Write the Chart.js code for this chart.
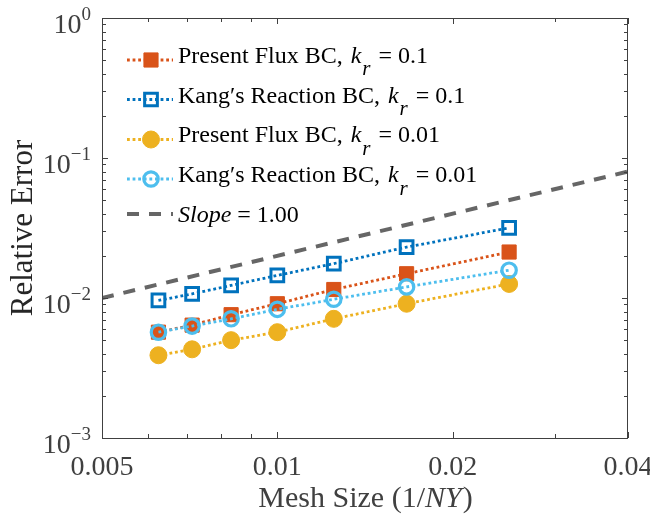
<!DOCTYPE html>
<html>
<head>
<meta charset="utf-8">
<script src="https://cdn.jsdelivr.net/npm/chart.js"></script>
<style>
  html, body { margin: 0; padding: 0; background: #fff; }
  #wrap { width: 650px; height: 518px; }
</style>
</head>
<body>
<div id="wrap"><canvas id="graficoError" width="650" height="518"></canvas></div>
<script>
// valores (1/NY en el eje x)
const meshSize = [0.00625, 0.00714, 0.00833, 0.01, 0.0125, 0.01667, 0.025];
const presentFlux01 = [0.0057, 0.0064, 0.0076, 0.0091, 0.0115, 0.0149, 0.0213];
const kangReaction01 = [0.0096, 0.0107, 0.0123, 0.0145, 0.0176, 0.0231, 0.0317];
const presentFlux001 = [0.0039, 0.0043, 0.0050, 0.0057, 0.0071, 0.0091, 0.0126];
const kangReaction001 = [0.0057, 0.0063, 0.0071, 0.0083, 0.0098, 0.0120, 0.0158];
const slopeX = [0.005, 0.04];
const slopeY = [0.01, 0.08];

const xTicks = [0.005, 0.01, 0.02, 0.04];
const xTickLabels = ['0.005', '0.01', '0.02', '0.04'];
const xMinorTicks = [0.006, 0.007, 0.008, 0.009, 0.03];
const yTicks = [1, 0.1, 0.01, 0.001];
const yTickExponents = ['0', '\u22121', '\u22122', '\u22123'];

const legendNames = ['Present Flux BC', 'Kang\u2032s Reaction BC', 'Present Flux BC', 'Kang\u2032s Reaction BC'];
const legendKr = ['0.1', '0.1', '0.01', '0.01'];
const slopeLabel = '1.00';

const rojo = '#D95319', azul = '#0072BD', amarillo = '#EDB120', celeste = '#4DBEEE', gris = '#666666';
const fuente = "'Liberation Serif', 'Times New Roman', serif";
const colorEje = '#404040';

function puntos(ys) {
    return meshSize.map((x, i) => ({ x: x, y: ys[i] }));
}

const punteado = { borderWidth: 2.8, borderDash: [2.8, 2.8], tension: 0, showLine: true };

const datasets = [
    Object.assign({
        label: 'Present Flux BC, kr = 0.1', data: puntos(presentFlux01),
        borderColor: rojo, pointStyle: 'rect', pointRadius: 10,
        pointBackgroundColor: rojo, pointBorderColor: rojo, pointBorderWidth: 1, order: 4
    }, punteado),
    Object.assign({
        label: 'Kang\u2032s Reaction BC, kr = 0.1', data: puntos(kangReaction01),
        borderColor: azul, pointStyle: 'rect', pointRadius: 9,
        pointBackgroundColor: 'rgba(0,0,0,0)', pointBorderColor: azul, pointBorderWidth: 3, order: 3
    }, punteado),
    Object.assign({
        label: 'Present Flux BC, kr = 0.01', data: puntos(presentFlux001),
        borderColor: amarillo, pointStyle: 'circle', pointRadius: 8.5,
        pointBackgroundColor: amarillo, pointBorderColor: amarillo, pointBorderWidth: 1, order: 2
    }, punteado),
    Object.assign({
        label: 'Kang\u2032s Reaction BC, kr = 0.01', data: puntos(kangReaction001),
        borderColor: celeste, pointStyle: 'circle', pointRadius: 7.2,
        pointBackgroundColor: 'rgba(0,0,0,0)', pointBorderColor: celeste, pointBorderWidth: 3.2, order: 1
    }, punteado),
    {
        label: 'Slope = 1.00', data: slopeX.map((x, i) => ({ x: x, y: slopeY[i] })),
        borderColor: gris, borderWidth: 4, borderDash: [12, 10], pointRadius: 0,
        showLine: true, tension: 0, order: 5
    }
];

// dibuja un marcador de leyenda igual al de la serie
function marcador(ctx, ds, x, y) {
    ctx.save();
    ctx.lineWidth = ds.pointBorderWidth;
    ctx.strokeStyle = ds.pointBorderColor;
    ctx.fillStyle = ds.pointBackgroundColor;
    ctx.beginPath();
    if (ds.pointStyle === 'rect') {
        const s = Math.SQRT1_2 * ds.pointRadius;
        ctx.rect(x - s, y - s, 2 * s, 2 * s);
    } else {
        ctx.arc(x, y, ds.pointRadius, 0, Math.PI * 2);
    }
    ctx.fill();
    ctx.stroke();
    ctx.restore();
}

const ejesMatlab = {
    id: 'ejesMatlab',
    afterDraw(chart) {
        const ctx = chart.ctx;
        const a = chart.chartArea;
        const sx = chart.scales.x, sy = chart.scales.y;
        ctx.save();

        // marco
        ctx.strokeStyle = colorEje;
        ctx.lineWidth = 1;
        ctx.strokeRect(a.left + 0.5, a.top + 0.5, a.right - a.left - 1, a.bottom - a.top);

        // marcas eje y
        ctx.beginPath();
        for (let n = -3; n <= 0; n++) {
            for (let k = 1; k <= 9; k++) {
                const v = k * Math.pow(10, n);
                if (v > 1.0001) break;
                const py = Math.round(sy.getPixelForValue(v)) + 0.5;
                const len = k === 1 ? 6 : 4;
                ctx.moveTo(a.left, py); ctx.lineTo(a.left + len, py);
                ctx.moveTo(a.right, py); ctx.lineTo(a.right - len, py);
            }
        }
        // marcas eje x
        xTicks.concat(xMinorTicks).forEach(v => {
            const px = Math.round(sx.getPixelForValue(v)) + 0.5;
            const len = xMinorTicks.includes(v) ? 4 : 6;
            ctx.moveTo(px, a.bottom); ctx.lineTo(px, a.bottom - len);
            ctx.moveTo(px, a.top); ctx.lineTo(px, a.top + len);
        });
        ctx.stroke();

        // etiquetas eje x
        ctx.fillStyle = colorEje;
        ctx.font = '28px ' + fuente;
        ctx.textAlign = 'center';
        ctx.textBaseline = 'alphabetic';
        xTicks.forEach((v, i) => {
            ctx.fillText(xTickLabels[i], sx.getPixelForValue(v), 475);
        });

        // etiquetas eje y (10^n)
        yTicks.forEach((v, i) => {
            const py = sy.getPixelForValue(v);
            ctx.font = '19px ' + fuente;
            const ew = ctx.measureText(yTickExponents[i]).width;
            const xe = 91 - ew;
            ctx.textAlign = 'left';
            ctx.fillText(yTickExponents[i], xe, py + 1.5);
            ctx.font = '28px ' + fuente;
            ctx.textAlign = 'right';
            ctx.fillText('10', xe, py + 14.5);
        });

        // titulo eje x
        ctx.font = '30px ' + fuente;
        const t1 = 'Mesh Size (1/', t3 = ')';
        const w1 = ctx.measureText(t1).width, w3 = ctx.measureText(t3).width;
        ctx.font = 'italic 30px ' + fuente;
        const w2 = ctx.measureText('NY').width;
        let x0 = (a.left + a.right) / 2 - (w1 + w2 + w3) / 2;
        ctx.textAlign = 'left';
        ctx.font = '30px ' + fuente;
        ctx.fillText(t1, x0, 507);
        ctx.font = 'italic 30px ' + fuente;
        ctx.fillText('NY', x0 + w1, 507);
        ctx.font = '30px ' + fuente;
        ctx.fillText(t3, x0 + w1 + w2 + 1, 507);

        // titulo eje y
        ctx.save();
        ctx.translate(32, (a.top + a.bottom) / 2);
        ctx.rotate(-Math.PI / 2);
        ctx.textAlign = 'center';
        ctx.fillStyle = '#262626';
        ctx.font = '31px ' + fuente;
        ctx.fillText('Relative Error', 0, 0);
        ctx.restore();

        // leyenda
        const base = [62.7, 102.5, 142.2, 182, 221.7];
        const lineaY = [60, 99.5, 139.5, 179, 214];
        ctx.fillStyle = '#000';
        for (let i = 0; i < 5; i++) {
            const ds = datasets[i];
            ctx.save();
            ctx.strokeStyle = ds.borderColor;
            ctx.lineWidth = ds.borderWidth;
            ctx.setLineDash(ds.borderDash);
            ctx.beginPath();
            ctx.moveTo(127, lineaY[i]);
            ctx.lineTo(173, lineaY[i]);
            ctx.stroke();
            ctx.restore();
            if (ds.pointRadius > 0) marcador(ctx, ds, 151, lineaY[i]);

            let x = 178;
            const y = base[i];
            ctx.textAlign = 'left';
            if (i < 4) {
                ctx.font = '24px ' + fuente;
                const pre = legendNames[i] + ', ';
                ctx.fillText(pre, x, y);
                x += ctx.measureText(pre).width + 2;
                ctx.font = 'italic 24px ' + fuente;
                ctx.fillText('k', x, y);
                x += ctx.measureText('k').width + 1;
                ctx.font = 'italic 21px ' + fuente;
                ctx.fillText('r', x, y + 12.5);
                x += ctx.measureText('r').width + 2;
                ctx.font = '24px ' + fuente;
                ctx.fillText(' = ' + legendKr[i], x, y);
            } else {
                ctx.font = 'italic 24px ' + fuente;
                ctx.fillText('Slope', x, y);
                x += ctx.measureText('Slope').width;
                ctx.font = '24px ' + fuente;
                ctx.fillText(' = ' + slopeLabel, x, y);
            }
        }
        ctx.restore();
    }
};

new Chart(document.getElementById('graficoError').getContext('2d'), {
    type: 'scatter',
    data: { datasets: datasets },
    options: {
        responsive: false,
        animation: false,
        events: [],
        layout: { padding: { left: 102, right: 22, top: 18, bottom: 80 } },
        plugins: { legend: { display: false }, tooltip: { enabled: false } },
        scales: {
            x: { type: 'logarithmic', min: 0.005, max: 0.04, display: false },
            y: { type: 'logarithmic', min: 0.001, max: 1, display: false }
        }
    },
    plugins: [ejesMatlab]
});
</script>
</body>
</html>
